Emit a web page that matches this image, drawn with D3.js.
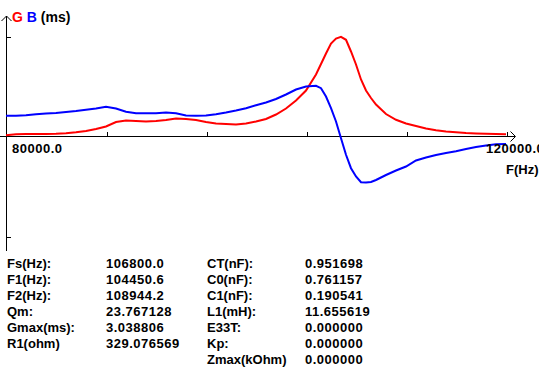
<!DOCTYPE html>
<html>
<head>
<meta charset="UTF-8">
<script src="https://d3js.org/d3.v7.min.js"></script>
<style>
  body { margin: 0; background: #fff; }
  svg { display: block; }
  text { font-family: "Liberation Sans", Arial, sans-serif; font-weight: bold; font-size: 13px; }
  .num { letter-spacing: 0.5px; }
</style>
</head>
<body>
<svg id="chart"></svg>
<script>
const W = 539, H = 377;

// frequencies (Hz)
const freq = [80000, 80800, 81600, 82400, 83200, 84000, 84800, 85600, 86400, 87200,
  88000, 88800, 89600, 90400, 91200, 92000, 92800, 93600, 94400, 95200,
  96000, 96800, 97600, 98400, 99200, 100000, 100800, 101600, 102400, 103200,
  104000, 104800, 105200, 105600, 106000, 106400, 106800, 107200, 107600, 108000,
  108400, 108800, 109200, 109600, 110400, 111200, 112000, 112800, 113600, 114400,
  115200, 116000, 116800, 117600, 118400, 119200, 120000];

// conductance G (ms)
const gVals = [0.040, 0.067, 0.073, 0.076, 0.076, 0.082, 0.100, 0.128, 0.167, 0.228,
  0.304, 0.441, 0.486, 0.471, 0.456, 0.471, 0.502, 0.547, 0.532, 0.502,
  0.441, 0.395, 0.380, 0.365, 0.395, 0.456, 0.532, 0.669, 0.851, 1.094,
  1.398, 1.885, 2.204, 2.523, 2.827, 2.979, 3.031, 2.940, 2.584, 2.189,
  1.733, 1.398, 1.170, 0.973, 0.684, 0.508, 0.395, 0.319, 0.243, 0.192,
  0.152, 0.128, 0.106, 0.091, 0.082, 0.076, 0.070];

// susceptance B (ms)
const bVals = [0.629, 0.629, 0.644, 0.675, 0.699, 0.714, 0.745, 0.775, 0.812, 0.851,
  0.903, 0.851, 0.751, 0.708, 0.708, 0.708, 0.730, 0.708, 0.638, 0.629,
  0.638, 0.678, 0.730, 0.790, 0.860, 0.952, 1.034, 1.140, 1.277, 1.429,
  1.520, 1.541, 1.468, 1.216, 0.860, 0.456, -0.052, -0.556, -0.964, -1.216,
  -1.389, -1.398, -1.383, -1.322, -1.170, -1.034, -0.912, -0.730, -0.638, -0.562,
  -0.502, -0.447, -0.380, -0.319, -0.274, -0.234, -0.228];

const xTicks = [80000, 88000, 96000, 104000, 112000, 120000];
const yTicks = [-3.04, 3.04];
const xLabels = ["80000.0", "120000.0"];

const paramNames1 = ["Fs(Hz):", "F1(Hz):", "F2(Hz):", "Qm:", "Gmax(ms):", "R1(ohm)"];
const paramVals1 = ["106800.0", "104450.6", "108944.2", "23.767128", "3.038806", "329.076569"];
const paramNames2 = ["CT(nF):", "C0(nF):", "C1(nF):", "L1(mH):", "E33T:", "Kp:", "Zmax(kOhm)"];
const paramVals2 = ["0.951698", "0.761157", "0.190541", "11.655619", "0.000000", "0.000000", "0.000000"];

const svg = d3.select("#chart").attr("width", W).attr("height", H);

const x = d3.scaleLinear().domain([80000, 120000]).range([6, 506]);
const y = d3.scaleLinear().domain([-3.04, 3.04]).range([236.5, 36.5]);

// axes
svg.append("line").attr("x1", 0).attr("x2", 515).attr("y1", 136.5).attr("y2", 136.5)
   .attr("stroke", "#000").attr("shape-rendering", "crispEdges");
svg.append("path").attr("d", "M510.5,131.5L515.5,136.5L510.5,141.5")
   .attr("fill", "none").attr("stroke", "#000");
svg.append("line").attr("x1", 6.5).attr("x2", 6.5).attr("y1", 16).attr("y2", 251)
   .attr("stroke", "#000").attr("shape-rendering", "crispEdges");
svg.append("path").attr("d", "M1.5,21L6.5,16L11.5,21")
   .attr("fill", "none").attr("stroke", "#000");

const xAxis = svg.append("g").attr("transform", "translate(0.5,136)")
   .call(d3.axisBottom(x).tickValues(xTicks.slice(1)).tickSize(-4).tickFormat(""));
xAxis.select(".domain").remove();
xAxis.selectAll("line").attr("shape-rendering", "crispEdges");

const yAxis = svg.append("g").attr("transform", "translate(6,0)")
   .call(d3.axisRight(y).tickValues(yTicks).tickSize(5).tickFormat(""));
yAxis.select(".domain").remove();
yAxis.selectAll("line").attr("shape-rendering", "crispEdges");

// curves
const line = vals => d3.line().x((d, i) => x(freq[i])).y(d => y(d))(vals);
svg.append("path").attr("d", line(gVals)).attr("fill", "none")
   .attr("stroke", "#ff0000").attr("stroke-width", 2);
svg.append("path").attr("d", line(bVals)).attr("fill", "none")
   .attr("stroke", "#0000ff").attr("stroke-width", 2);

// header
const hdr = svg.append("text").attr("x", 12).attr("y", 22).style("font-size", "14px");
hdr.append("tspan").attr("fill", "#ff0000").text("G");
hdr.append("tspan").attr("fill", "#0000ff").text(" B");
hdr.append("tspan").attr("fill", "#000").text(" (ms)");

// axis labels
svg.append("text").attr("class", "num").attr("x", x(xTicks[0]) + 6).attr("y", 152.5).text(xLabels[0]);
svg.append("text").attr("class", "num").attr("x", x(xTicks[5]) - 20).attr("y", 152.5).text(xLabels[1]);
svg.append("text").attr("x", 506).attr("y", 174).text("F(Hz)");

// parameter table
const rowY = i => 267.5 + i * 16;
paramNames1.forEach((t, i) => svg.append("text").attr("x", 7).attr("y", rowY(i)).text(t));
paramVals1.forEach((t, i) => svg.append("text").attr("class", "num").attr("x", 106).attr("y", rowY(i)).text(t));
paramNames2.forEach((t, i) => svg.append("text").attr("x", 207).attr("y", rowY(i)).text(t));
paramVals2.forEach((t, i) => svg.append("text").attr("class", "num").attr("x", 305).attr("y", rowY(i)).text(t));
</script>
</body>
</html>
